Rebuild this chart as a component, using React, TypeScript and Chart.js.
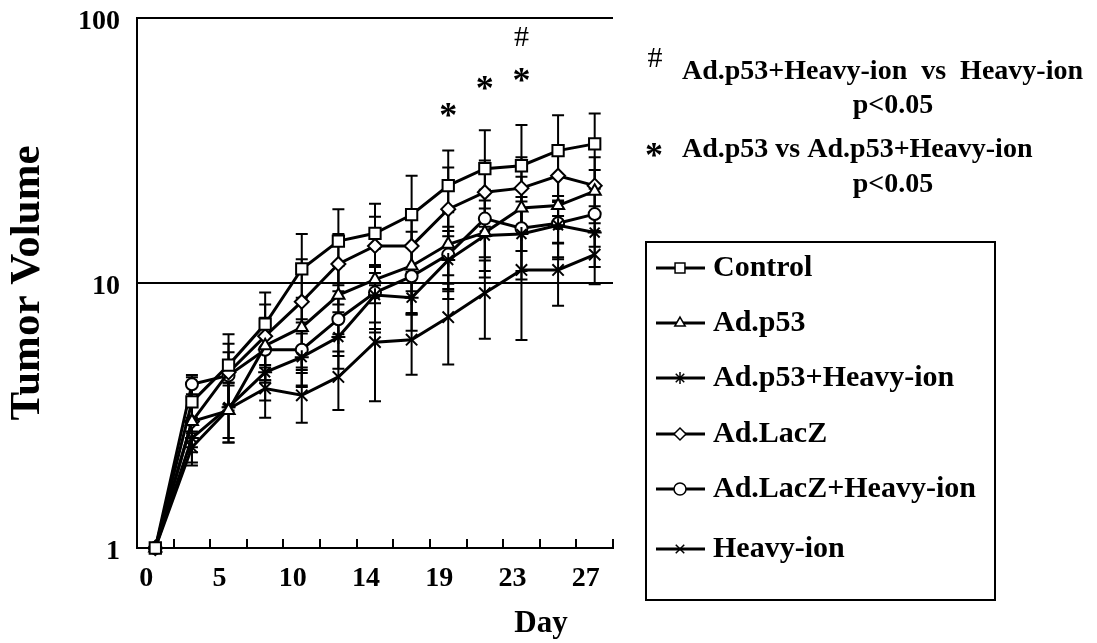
import React, { useEffect, useRef } from 'react';
import { Chart, registerables } from 'chart.js';
import { drawPoint } from 'chart.js/helpers';

Chart.register(...registerables);

const FONT = '"Liberation Serif", "Times New Roman", Times, serif';

// ---- data ----
const days = ['0', '3', '5', '7', '10', '12', '14', '17', '19', '21', '23', '25', '27'];
const labeledDays = ['0', '5', '10', '14', '19', '23', '27'];
const yTickValues = [1, 10, 100];

const seriesNames = ['Control', 'Ad.p53', 'Ad.p53+Heavy-ion', 'Ad.LacZ', 'Ad.LacZ+Heavy-ion', 'Heavy-ion'];
const pointStyles = ['rect', 'triangle', 'star', 'rectRot', 'circle', 'crossRot'];

const controlMean = [1, 3.56, 4.9, 7.0, 11.3, 14.4, 15.4, 18.1, 23.3, 27.0, 27.7, 31.6, 33.5];
const controlSD = [0, 0.85, 1.5, 2.2, 4.0, 4.6, 4.5, 7.3, 8.3, 10.7, 11.8, 11.4, 10.1];

const p53Mean = [1, 3.0, 3.3, 5.8, 6.8, 9.0, 10.3, 11.6, 14.0, 15.5, 19.2, 19.6, 22.2];
const p53SD = [0, 0.6, 0.8, 1.6, 2.0, 2.6, 3.2, 4.0, 4.5, 5.0, 6.0, 5.5, 4.5];

const p53HeavyMean = [1, 2.6, 3.4, 4.6, 5.25, 6.25, 9.0, 8.8, 12.2, 15.1, 15.3, 16.5, 15.5];
const p53HeavySD = [0, 0.5, 0.8, 1.0, 1.2, 1.5, 2.5, 2.2, 3.5, 4.0, 5.0, 4.0, 4.0];

const lacZMean = [1, 3.0, 4.6, 6.3, 8.5, 11.8, 13.8, 13.8, 19.0, 22.0, 22.8, 25.4, 23.3];
const lacZSD = [0, 0.7, 1.3, 2.0, 3.8, 3.5, 4.0, 4.5, 8.3, 7.0, 7.0, 7.5, 6.5];

const lacZHeavyMean = [1, 4.15, 4.48, 5.6, 5.6, 7.3, 9.2, 10.6, 12.8, 17.5, 16.1, 16.8, 18.2];
const lacZHeavySD = [0, 0.35, 1.0, 1.3, 1.5, 2.0, 2.5, 3.0, 3.5, 5.0, 5.0, 4.5, 4.5];

const heavyMean = [1, 2.4, 3.35, 4.0, 3.77, 4.42, 5.98, 6.11, 7.43, 9.16, 11.2, 11.2, 12.8];
const heavySD = [0, 0.35, 0.85, 0.9, 0.8, 1.1, 2.4, 1.6, 2.5, 3.0, 5.1, 3.0, 2.9];

const means = [controlMean, p53Mean, p53HeavyMean, lacZMean, lacZHeavyMean, heavyMean];
const sds = [controlSD, p53SD, p53HeavySD, lacZSD, lacZHeavySD, heavySD];

const sigDays = ['19', '21', '23', '23'];
const sigValues = [45, 57, 61, 85];
const sigSymbols = ['*', '*', '*', '#'];

const noteSymbols = ['#', '*'];
const noteTexts = ['Ad.p53+Heavy-ion  vs  Heavy-ion', 'Ad.p53 vs Ad.p53+Heavy-ion'];
const noteP = 'p<0.05';

// ---- plugins ----
const errorBarPlugin = {
  id: 'errorBars',
  beforeDatasetsDraw(chart: any) {
    const { ctx } = chart;
    const x = chart.scales.x;
    const y = chart.scales.y;
    ctx.save();
    ctx.strokeStyle = '#000';
    ctx.lineWidth = 2;
    means.forEach((series, di) => {
      const err = sds[di];
      series.forEach((v, i) => {
        const e = err[i];
        if (!e) return;
        const px = x.getPixelForValue(i);
        const top = y.getPixelForValue(v + e);
        const bot = y.getPixelForValue(Math.max(v - e, 1));
        ctx.beginPath();
        ctx.moveTo(px, top);
        ctx.lineTo(px, bot);
        ctx.moveTo(px - 6, top);
        ctx.lineTo(px + 6, top);
        ctx.moveTo(px - 6, bot);
        ctx.lineTo(px + 6, bot);
        ctx.stroke();
      });
    });
    ctx.restore();
  },
};

const innerTickPlugin = {
  id: 'innerTicks',
  afterDatasetsDraw(chart: any) {
    const { ctx, chartArea } = chart;
    const x = chart.scales.x;
    const step = x.getPixelForValue(1) - x.getPixelForValue(0);
    ctx.save();
    ctx.strokeStyle = '#000';
    ctx.lineWidth = 2;
    ctx.beginPath();
    for (let i = 0; i < days.length; i++) {
      const bx = Math.round(x.getPixelForValue(i) + step / 2);
      ctx.moveTo(bx, chartArea.bottom);
      ctx.lineTo(bx, chartArea.bottom - 9);
    }
    ctx.stroke();
    ctx.restore();
  },
};

function drawGlyphCentered(ctx: CanvasRenderingContext2D, text: string, cx: number, cy: number, font: string) {
  ctx.font = font;
  ctx.textAlign = 'center';
  ctx.textBaseline = 'alphabetic';
  const m = ctx.measureText(text);
  const asc = m.actualBoundingBoxAscent;
  const desc = m.actualBoundingBoxDescent;
  ctx.fillText(text, cx, cy + (asc - desc) / 2);
}

const annotationPlugin = {
  id: 'annotations',
  afterDraw(chart: any) {
    const { ctx } = chart;
    const x = chart.scales.x;
    const y = chart.scales.y;
    ctx.save();
    ctx.fillStyle = '#000';
    sigDays.forEach((d, k) => {
      const px = x.getPixelForValue(days.indexOf(d));
      const py = y.getPixelForValue(sigValues[k]);
      const sym = sigSymbols[k];
      const font = sym === '#' ? `normal 30px ${FONT}` : `bold 36px ${FONT}`;
      drawGlyphCentered(ctx, sym, px, py, font);
    });

    // notes on the right
    drawGlyphCentered(ctx, noteSymbols[0], 655, 57, `normal 30px ${FONT}`);
    drawGlyphCentered(ctx, noteSymbols[1], 654, 150, `bold 36px ${FONT}`);
    ctx.font = `bold 28px ${FONT}`;
    ctx.textBaseline = 'middle';
    ctx.textAlign = 'left';
    ctx.fillText(noteTexts[0], 682, 72);
    ctx.fillText(noteTexts[1], 682, 150);
    ctx.textAlign = 'center';
    ctx.fillText(noteP, 893, 106);
    ctx.fillText(noteP, 893, 185);

    // x-axis title
    ctx.font = `bold 31px ${FONT}`;
    ctx.fillText('Day', 541, 624);
    ctx.restore();
  },
};

const legendPlugin = {
  id: 'boxLegend',
  afterDraw(chart: any) {
    const { ctx } = chart;
    ctx.save();
    ctx.strokeStyle = '#000';
    ctx.lineWidth = 2;
    ctx.strokeRect(646, 242, 349, 358);
    const rowY = [268, 323, 378, 434, 489, 549];
    chart.data.datasets.forEach((ds: any, i: number) => {
      const yy = rowY[i];
      ctx.strokeStyle = '#000';
      ctx.lineWidth = 3;
      ctx.beginPath();
      ctx.moveTo(656, yy);
      ctx.lineTo(705, yy);
      ctx.stroke();
      ctx.fillStyle = '#fff';
      ctx.lineWidth = 1.5;
      drawPoint(ctx, { pointStyle: ds.pointStyle, rotation: 0, radius: ds.pointStyle === 'rect' ? 7 : 6, borderWidth: 1.5 } as any, 680, yy);
      ctx.fillStyle = '#000';
      ctx.font = `bold 30px ${FONT}`;
      ctx.textAlign = 'left';
      ctx.textBaseline = 'middle';
      ctx.fillText(ds.label, 713, yy);
    });
    ctx.restore();
  },
};

export default function App() {
  const ref = useRef<HTMLCanvasElement>(null);
  useEffect(() => {
    const canvas = ref.current!;
    Chart.defaults.font.family = FONT;
    const radii: Record<string, number> = { rect: 8, triangle: 7, star: 7, rectRot: 7, circle: 6, crossRot: 8 };
    const datasets = seriesNames.map((name, i) => ({
      label: name,
      data: means[i],
      borderColor: '#000',
      backgroundColor: '#fff',
      borderWidth: 3,
      pointStyle: pointStyles[i],
      pointRadius: radii[pointStyles[i]],
      pointBorderWidth: 2,
      pointBackgroundColor: '#fff',
      pointBorderColor: '#000',
      tension: 0,
      clip: false as any,
    }));
    const chart = new Chart(canvas, {
      type: 'line',
      data: { labels: days, datasets: datasets as any },
      options: {
        responsive: false,
        animation: false,
        devicePixelRatio: 1,
        layout: { padding: { left: 0, top: 18, right: 484, bottom: 0 } },
        plugins: { legend: { display: false }, tooltip: { enabled: false } },
        scales: {
          x: {
            type: 'category',
            offset: true,
            grid: { display: true, drawOnChartArea: false, drawTicks: false },
            border: { display: true, color: '#000', width: 2 },
            ticks: {
              autoSkip: false,
              maxRotation: 0,
              minRotation: 0,
              color: '#000',
              font: { family: FONT, size: 28, weight: 'bold' },
              padding: 14,
              labelOffset: -9,
              callback: (_v: any, i: number) => (labeledDays.includes(days[i]) ? days[i] : ''),
            },
            afterFit: (s: any) => {
              s.height = 95;
              s.paddingLeft = 0;
              s.paddingRight = 0;
            },
          },
          y: {
            type: 'logarithmic',
            min: 1,
            max: 100,
            afterBuildTicks: (s: any) => {
              s.ticks = yTickValues.map((v) => ({ value: v }));
            },
            grid: { color: '#000', lineWidth: 2, drawTicks: false },
            border: { display: true, color: '#000', width: 2 },
            ticks: {
              color: '#000',
              font: { family: FONT, size: 28, weight: 'bold' },
              padding: 17,
              labelOffset: 4,
              callback: (v: any) => String(v),
            },
            title: {
              display: true,
              text: 'Tumor Volume',
              color: '#000',
              font: { family: FONT, size: 43, weight: 'bold' },
              padding: { top: 2, bottom: 0 },
            },
            afterFit: (s: any) => {
              s.width = 137;
              s.paddingTop = 0;
              s.paddingBottom = 0;
            },
          },
        },
      } as any,
      plugins: [errorBarPlugin, innerTickPlugin, annotationPlugin, legendPlugin],
    });
    return () => chart.destroy();
  }, []);
  return (
    <div style={{ position: 'fixed', left: 0, top: 0, width: 1097, height: 643, background: '#fff' }}>
      <canvas ref={ref} width={1097} height={643} style={{ display: 'block' }} />
    </div>
  );
}
